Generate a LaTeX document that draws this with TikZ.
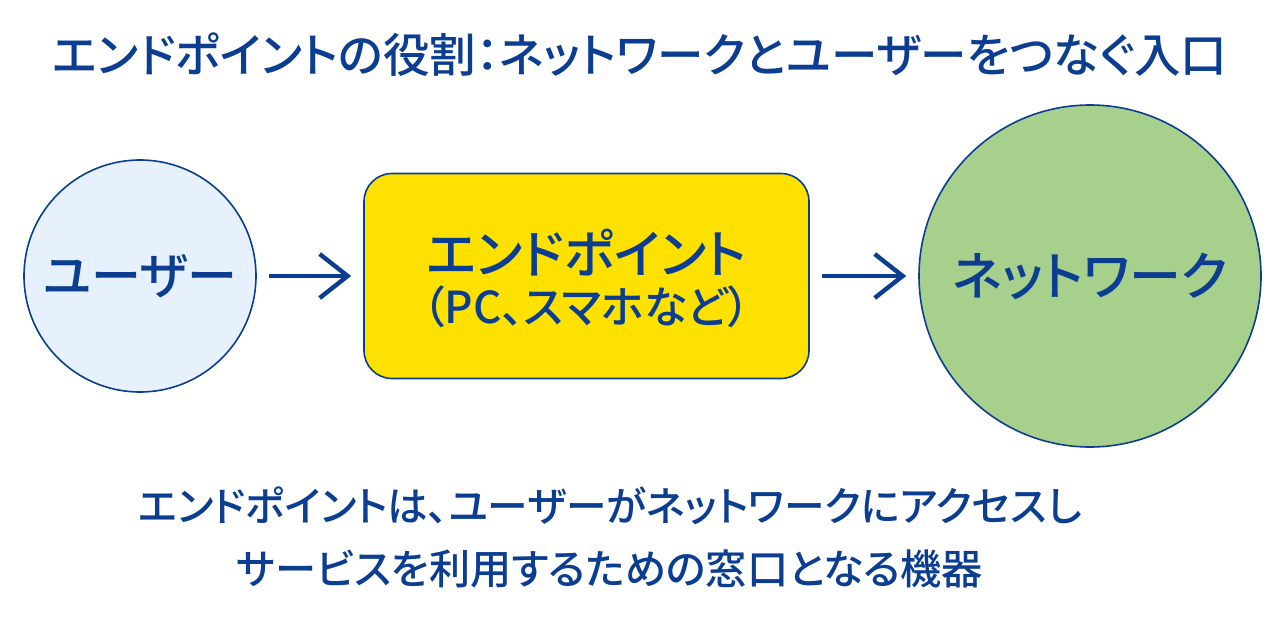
\documentclass[tikz,border=0pt]{standalone}
\usepackage{fontspec}
\setmainfont{Noto Sans CJK JP Medium}[RawFeature=+palt]
\usetikzlibrary{arrows.meta,positioning}
\definecolor{navy}{HTML}{0B3D91}
\definecolor{userfill}{HTML}{E6F1FD}
\definecolor{netfill}{HTML}{A8D08D}
\definecolor{epfill}{HTML}{FFE100}
\begin{document}
\begin{tikzpicture}[x=1pt,y=-1pt,
                    txt/.style={text=navy, inner sep=0pt},
                    circ/.style={draw=navy, circle, line width=1.6pt, inner sep=0pt},
                    line/.style={draw=navy, line width=4.4pt, -{Straight Barb[length=28pt,width=44pt,line width=4.4pt]}}]
    \useasboundingbox (0,0) rectangle (1280,616);
    % Nodes
    \node [circ, fill=userfill, minimum size=232pt] (user) at (140,276) {};
    \node [draw=navy, line width=1.6pt, fill=epfill, rounded corners=28pt, minimum width=445pt, minimum height=205pt, inner sep=0pt] (endpoint) at (586.5,276) {};
    \node [circ, fill=netfill, minimum size=342pt] (net) at (1090,276) {};
    \node [txt, font=\fontsize{50}{50}\selectfont] at (user) (usertext) {ユーザー};
    \node [txt, font=\fontsize{52}{52}\selectfont] at (586.5,253) (eptext) {エンドポイント};
    \node [txt, font=\fontsize{44}{44}\selectfont] at (586.5,307) (eptext2) {（PC、スマホなど）};
    \node [txt, font=\fontsize{52}{52}\selectfont] at (net) (nettext) {ネットワーク};
    \node [txt, font=\fontsize{46.5}{46.5}\selectfont] at (640,55) (title) {エンドポイントの役割：ネットワークとユーザーをつなぐ入口};
    \node [txt, font=\fontsize{40.6}{40.6}\selectfont] at (610,506) (note1) {エンドポイントは、ユーザーがネットワークにアクセスし};
    \node [txt, font=\fontsize{41.2}{41.2}\selectfont] at (610,569) (note2) {サービスを利用するための窓口となる機器};

    % Paths
    \path [line] ([xshift=12pt]user.east) -- ([xshift=-12pt]endpoint.west);
    \path [line] ([xshift=12pt]endpoint.east) -- ([xshift=-12pt]net.west);
\end{tikzpicture}
\end{document}
